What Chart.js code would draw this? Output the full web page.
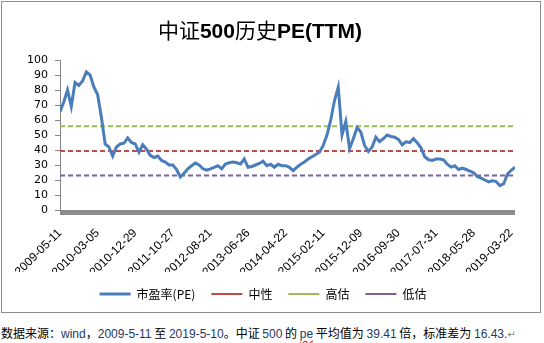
<!DOCTYPE html>
<html>
<head>
<meta charset="utf-8">
<script src="https://cdn.jsdelivr.net/npm/chart.js@4.4.1/dist/chart.umd.min.js"></script>
<style>
    body { margin: 0; background: #fff; width: 544px; height: 343px; overflow: hidden; position: relative; }
    #frame { position: absolute; left: 1px; top: 1px; width: 538px; height: 310px; border: 1px solid #8c8c8c; }
    #wrap { position: absolute; left: 2px; top: 2px; width: 538px; height: 308px; }
    #note { position: absolute; left: 1px; top: 326px; font: 12px "Noto Sans CJK SC", sans-serif; line-height: 14px; color: #000; white-space: nowrap; }
    #note .l { font-family: "Liberation Sans", sans-serif; color: #1f3864; }
    #note .pe { text-decoration: underline wavy #e02020; text-underline-offset: 2px; }
    #note .ret { color: #7f7f7f; font-family: "DejaVu Sans", sans-serif; font-size: 10px; }
</style>
</head>
<body>
<div id="frame"></div>
<div id="wrap"><canvas id="peChart"></canvas></div>
<div id="note">数据来源：<span class="l">wind</span>，<span class="l">2009-5-11</span> 至 <span class="l">2019-5-10</span>。中证 <span class="l">500</span> 的 <span class="l pe">pe</span> 平均值为 <span class="l">39.41</span> 倍，标准差为 <span class="l">16.43.</span><span class="ret">↵</span></div>
<script>
const chartTitle = '中证500历史PE(TTM)';

// one value roughly every 20 trading days
const pe = [
    65.5, 72, 80, 69, 85, 83, 86, 92, 90, 82,
    77, 62, 44, 42, 36, 42, 44, 44.5, 48, 45,
    44, 38.5, 43.5, 40.5, 36.4, 35, 36, 33, 32, 30,
    30, 27, 22, 24.5, 27.5, 29.5, 31.3, 30, 27.5, 26.5,
    27.4, 28.4, 29.5, 27.4, 30.7, 31.5, 32, 31.5, 30.7, 34,
    28.5, 29, 30, 31, 32.5, 29.5, 30.5, 28.5, 30.5, 29.5,
    29.5, 28.4, 26.2, 28.5, 30.5, 32, 34, 35.5, 37, 38.5,
    43, 50, 60, 73, 82, 50, 59, 41, 47.5, 55,
    52, 43, 39, 42, 48.5, 45.5, 47.5, 50, 49, 48.5,
    47, 43.5, 45.5, 45, 47.5, 44.8, 41.5, 35.5, 33.5, 33,
    34, 34, 33.5, 30.5, 28.6, 29.5, 27, 28, 27, 26,
    24.8, 22.2, 21.2, 20, 18.8, 19.4, 18.9, 16.2, 17.5, 24,
    26.5, 28.5
];

// one tick label every 10 points
const tickDates = [
    '2009-05-11', '2010-03-05', '2010-12-29', '2011-10-27', '2012-08-21',
    '2013-06-26', '2014-04-22', '2015-02-11', '2015-12-09', '2016-09-30',
    '2017-07-31', '2018-05-28', '2019-03-22'
];
const yTicks = [0, 10, 20, 30, 40, 50, 60, 70, 80, 90, 100];

const seriesNames = ['市盈率(PE)', '中性', '高估', '低估'];
const peMean = 39.41;
const peStd = 16.43;
const levels = [peMean, peMean + peStd, peMean - peStd];

const lastX = pe.length - 1;
const flat = v => [{ x: 0, y: v }, { x: lastX, y: v }];

// title: CJK in normal weight, latin runs in bold
const titlePlugin = {
    id: 'mixedTitle',
    afterDraw(chart) {
        const ctx = chart.ctx;
        const runs = chartTitle.match(/[\u4e00-\u9fff]+|[^\u4e00-\u9fff]+/g);
        const fontFor = r => /[\u4e00-\u9fff]/.test(r)
            ? '21px "Noto Sans CJK SC", sans-serif'
            : 'bold 21px "Liberation Sans", sans-serif';
        ctx.save();
        let total = 0;
        runs.forEach(r => { ctx.font = fontFor(r); total += ctx.measureText(r).width; });
        let x = 258 - total / 2;
        ctx.fillStyle = '#000';
        ctx.textBaseline = 'alphabetic';
        runs.forEach(r => {
            ctx.font = fontFor(r);
            ctx.fillText(r, x, 36);
            x += ctx.measureText(r).width;
        });
        ctx.restore();
    }
};

// thick grey category axis bar under the plot
const axisBar = {
    id: 'axisBar',
    beforeDatasetsDraw(chart) {
        const { ctx, chartArea } = chart;
        ctx.save();
        ctx.fillStyle = '#8c8c8c';
        ctx.fillRect(chartArea.left, chartArea.bottom, chartArea.right - chartArea.left, 5);
        ctx.restore();
    }
};

const ctx = document.getElementById('peChart').getContext('2d');
new Chart(ctx, {
    type: 'line',
    data: {
        datasets: [{
            label: seriesNames[0],
            data: pe.map((v, i) => ({ x: i, y: v })),
            borderColor: '#4a7ebb',
            borderWidth: 3,
            pointRadius: 0,
            tension: 0
        }, {
            label: seriesNames[1],
            data: flat(levels[0]),
            borderColor: '#be4b48',
            borderWidth: 2,
            borderDash: [5, 3],
            pointRadius: 0
        }, {
            label: seriesNames[2],
            data: flat(levels[1]),
            borderColor: '#9bbb59',
            borderWidth: 2,
            borderDash: [5, 3],
            pointRadius: 0
        }, {
            label: seriesNames[3],
            data: flat(levels[2]),
            borderColor: '#7d60a0',
            borderWidth: 2,
            borderDash: [5, 3],
            pointRadius: 0
        }]
    },
    options: {
        responsive: true,
        maintainAspectRatio: false,
        animation: false,
        layout: { padding: { top: 58, right: 16, bottom: 0, left: 0 } },
        plugins: {
            title: { display: false },
            tooltip: { enabled: false },
            legend: {
                position: 'bottom',
                labels: {
                    usePointStyle: true,
                    pointStyle: 'line',
                    pointStyleWidth: 31,
                    padding: 16,
                    color: '#000',
                    font: { family: '"Noto Sans CJK SC", sans-serif', size: 12 }
                }
            }
        },
        scales: {
            x: {
                type: 'linear',
                min: 0,
                max: lastX,
                grid: { display: false },
                border: { display: false },
                afterFit: s => { s.height = 62; s.paddingRight = 25; },
                ticks: {
                    stepSize: 10,
                    includeBounds: false,
                    autoSkip: false,
                    minRotation: 45,
                    maxRotation: 45,
                    padding: 8,
                    color: '#000',
                    font: { family: '"Liberation Sans", sans-serif', size: 12 },
                    callback: v => tickDates[v / 10] || ''
                }
            },
            y: {
                min: 0,
                max: 100,
                afterFit: s => { s.width = 58; },
                afterBuildTicks: s => { s.ticks = yTicks.map(v => ({ value: v })); },
                grid: { drawOnChartArea: false, drawTicks: true, tickLength: 5, color: '#868686' },
                border: { color: '#868686', width: 1 },
                ticks: {
                    autoSkip: false,
                    padding: 7,
                    color: '#000',
                    font: { family: '"DejaVu Sans", sans-serif', size: 11 }
                }
            }
        }
    },
    plugins: [titlePlugin, axisBar]
});
</script>
</body>
</html>
